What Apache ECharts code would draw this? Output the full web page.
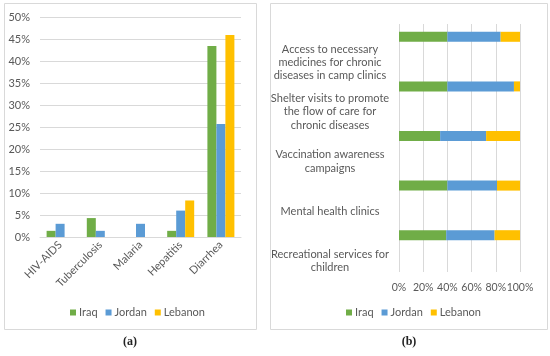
<!DOCTYPE html>
<html>
<head>
<meta charset="utf-8">
<script src="https://cdn.jsdelivr.net/npm/echarts@6/dist/echarts.min.js"></script>
<style>html,body{margin:0;padding:0;background:#fff}#c{width:550px;height:356px}</style>
</head>
<body>
<div id="c"></div>
<script>
// ---- Data: panel (a) ----
const diseases = ['HIV-AIDS', 'Tuberculosis', 'Malaria', 'Hepatitis', 'Diarrhea'];
const iraqA = [1.4, 4.3, 0, 1.4, 43.4];
const jordanA = [3.0, 1.4, 3.0, 6.0, 25.7];
const lebanonA = [0, 0, 0, 8.3, 45.9];
const yTicksA = [0, 5, 10, 15, 20, 25, 30, 35, 40, 45, 50];

// ---- Data: panel (b) ----
const services = [
  'Access to necessary\nmedicines for chronic\ndiseases in camp clinics',
  'Shelter visits to promote\nthe flow of care for\nchronic diseases',
  'Vaccination awareness\ncampaigns',
  'Mental health clinics',
  'Recreational services for\nchildren'
];
const iraqB = [40, 40, 34, 40, 39];
const jordanB = [44, 55, 38, 41, 40];
const lebanonB = [16, 5, 28, 19, 21];
const xTicksB = [0, 20, 40, 60, 80, 100];

const countries = ['Iraq', 'Jordan', 'Lebanon'];
const colors = ['#70ad47', '#5b9bd5', '#ffc000'];

const FONT = 'Lato';
const TXT = '#595959';
const GRID = '#d9d9d9';

const chart = echarts.init(document.getElementById('c'), null, {renderer: 'canvas'});
const zeroB = services.map(() => 0);

chart.setOption({
  animation: false,
  textStyle: {fontFamily: FONT},
  color: colors,
  grid: [
    {left: 40, right: 309, top: 17, bottom: 119},
    {left: 399, right: 30, top: 24, bottom: 84}
  ],
  xAxis: [
    {
      gridIndex: 0, type: 'category', data: diseases,
      axisTick: {show: false},
      axisLine: {lineStyle: {color: GRID}},
      axisLabel: {rotate: 45, interval: 0, color: TXT, fontSize: 11, margin: 6, fontFamily: FONT}
    },
    {
      gridIndex: 1, type: 'value', min: xTicksB[0], max: xTicksB[xTicksB.length - 1], interval: 20,
      axisLine: {show: false}, axisTick: {show: false},
      splitLine: {lineStyle: {color: GRID}},
      axisLabel: {formatter: '{value}%', color: TXT, fontSize: 10.5, margin: 10, fontFamily: FONT,
        showMaxLabel: true, showMinLabel: true, hideOverlap: false, minMargin: 0}
    }
  ],
  yAxis: [
    {
      gridIndex: 0, type: 'value', min: yTicksA[0], max: yTicksA[yTicksA.length - 1], interval: 5,
      axisLine: {show: false}, axisTick: {show: false},
      splitLine: {lineStyle: {color: GRID}},
      axisLabel: {formatter: '{value}%', color: TXT, fontSize: 11, margin: 10, fontFamily: FONT}
    },
    {
      gridIndex: 1, type: 'category', data: services, inverse: true,
      axisLine: {show: false}, axisTick: {show: false},
      axisLabel: {
        interval: 0, hideOverlap: false,
        color: TXT, fontSize: 11, margin: 11, lineHeight: 13.3,
        padding: [27, 0, 0, 0],
        formatter: v => v.split('\n').map(s => '{a|' + s + '}').join('\n'),
        rich: {a: {width: 116, align: 'center', color: TXT, fontSize: 11, lineHeight: 13.3, fontFamily: FONT}}
      }
    }
  ],
  legend: [
    {
      data: countries, left: 65, top: 302, itemWidth: 6, itemHeight: 6, itemGap: 8,
      icon: 'rect', textStyle: {color: TXT, fontSize: 11, fontFamily: FONT, padding: [0, 0, 0, -2]},
      selectedMode: false
    },
    {
      data: countries, left: 341, top: 302, itemWidth: 6, itemHeight: 6, itemGap: 8,
      icon: 'rect', textStyle: {color: TXT, fontSize: 11, fontFamily: FONT, padding: [0, 0, 0, -2]},
      selectedMode: false
    }
  ],
  series: [
    {name: 'Iraq', type: 'bar', xAxisIndex: 0, yAxisIndex: 0, data: iraqA, barWidth: 9, barGap: '0%', itemStyle: {color: colors[0]}},
    {name: 'Jordan', type: 'bar', xAxisIndex: 0, yAxisIndex: 0, data: jordanA, barWidth: 9, barGap: '0%', itemStyle: {color: colors[1]}},
    {name: 'Lebanon', type: 'bar', xAxisIndex: 0, yAxisIndex: 0, data: lebanonA, barWidth: 9, barGap: '0%', itemStyle: {color: colors[2]}},
    {name: 'Iraq', type: 'bar', xAxisIndex: 1, yAxisIndex: 1, stack: 's', data: iraqB, barWidth: 10, barGap: '140%', itemStyle: {color: colors[0]}},
    {name: 'Jordan', type: 'bar', xAxisIndex: 1, yAxisIndex: 1, stack: 's', data: jordanB, barWidth: 10, barGap: '140%', itemStyle: {color: colors[1]}},
    {name: 'Lebanon', type: 'bar', xAxisIndex: 1, yAxisIndex: 1, stack: 's', data: lebanonB, barWidth: 10, barGap: '140%', itemStyle: {color: colors[2]}},
    {name: 'spacer', type: 'bar', xAxisIndex: 1, yAxisIndex: 1, stack: 'd', data: zeroB, barWidth: 10, barGap: '140%', itemStyle: {color: 'rgba(0,0,0,0)'}, silent: true}
  ],
  graphic: [
    {type: 'rect', shape: {x: 4.5, y: 3.5, width: 252, height: 326}, style: {fill: 'none', stroke: GRID, lineWidth: 1}, silent: true},
    {type: 'rect', shape: {x: 270.5, y: 3.5, width: 277, height: 326}, style: {fill: 'none', stroke: GRID, lineWidth: 1}, silent: true},
    {type: 'text', x: 130, y: 342, style: {text: '(a)', font: 'bold 12px "Liberation Serif"', fill: '#222', align: 'center', verticalAlign: 'middle'}},
    {type: 'text', x: 409, y: 342, style: {text: '(b)', font: 'bold 12px "Liberation Serif"', fill: '#222', align: 'center', verticalAlign: 'middle'}}
  ]
});
</script>
</body>
</html>
